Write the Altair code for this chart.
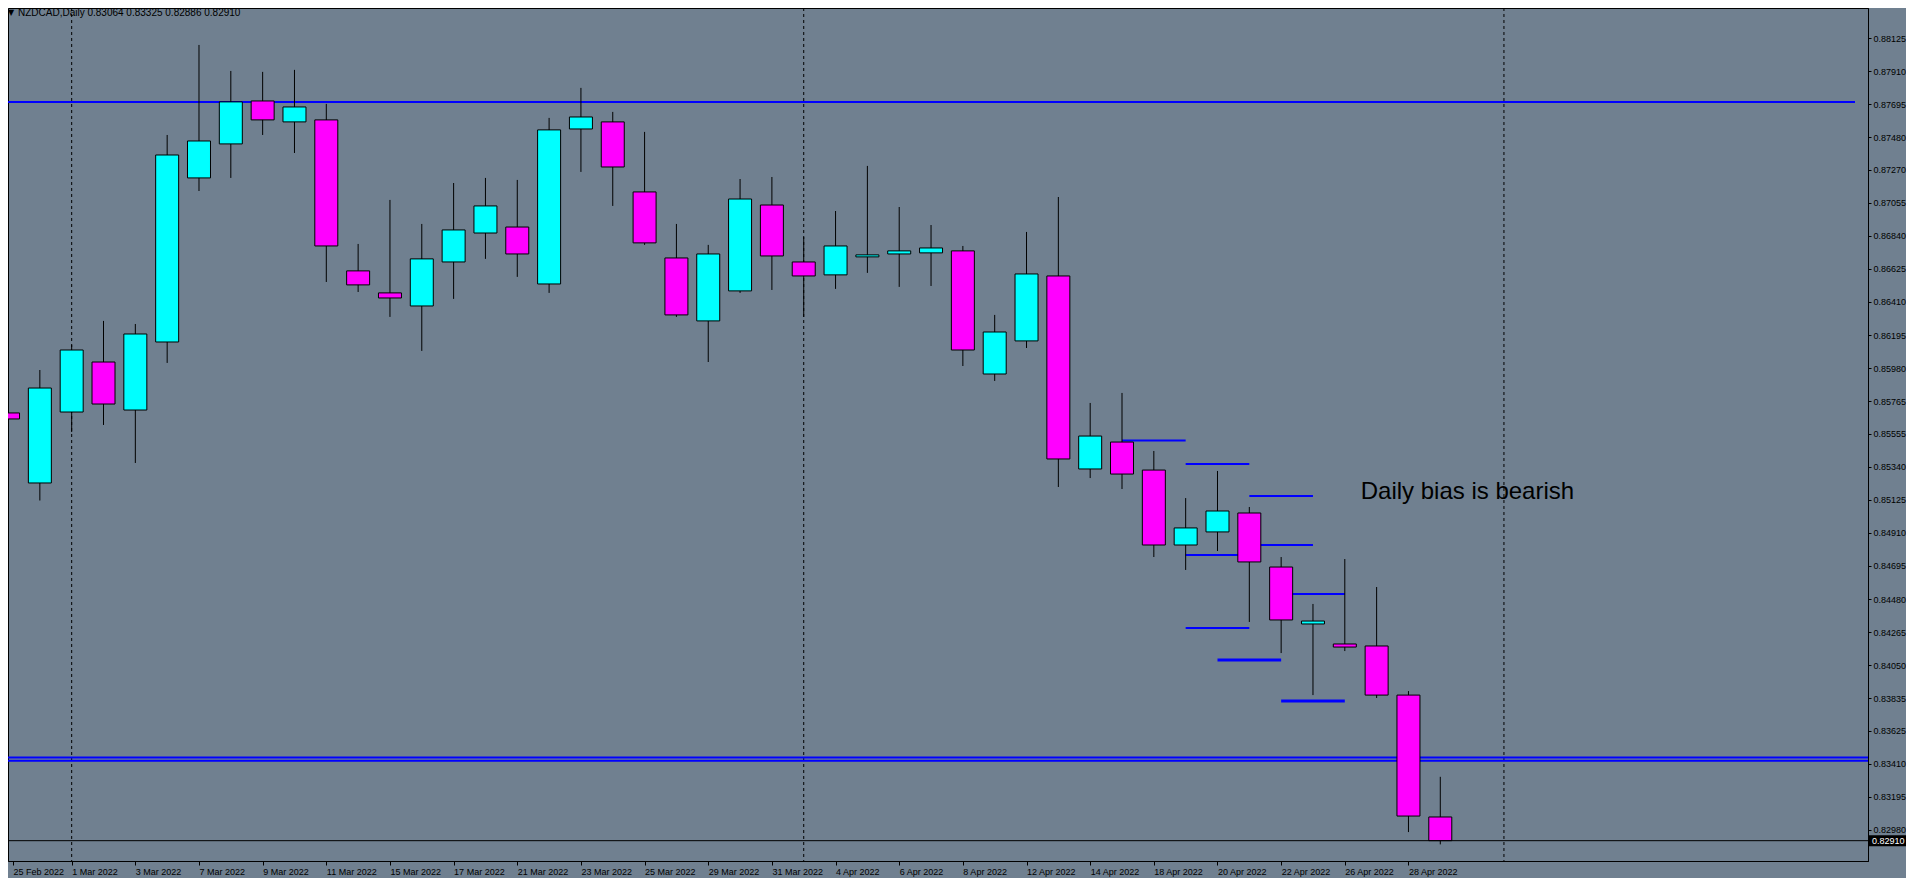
import json
import altair as alt
import pandas as pd

# ---------------- data ----------------
dates = ["25 Feb 2022", "28 Feb 2022", "1 Mar 2022", "2 Mar 2022", "3 Mar 2022", "4 Mar 2022",
         "7 Mar 2022", "8 Mar 2022", "9 Mar 2022", "10 Mar 2022", "11 Mar 2022", "14 Mar 2022",
         "15 Mar 2022", "16 Mar 2022", "17 Mar 2022", "18 Mar 2022", "21 Mar 2022", "22 Mar 2022",
         "23 Mar 2022", "24 Mar 2022", "25 Mar 2022", "28 Mar 2022", "29 Mar 2022", "30 Mar 2022",
         "31 Mar 2022", "1 Apr 2022", "4 Apr 2022", "5 Apr 2022", "6 Apr 2022", "7 Apr 2022",
         "8 Apr 2022", "11 Apr 2022", "12 Apr 2022", "13 Apr 2022", "14 Apr 2022", "15 Apr 2022",
         "18 Apr 2022", "19 Apr 2022", "20 Apr 2022", "21 Apr 2022", "22 Apr 2022", "25 Apr 2022",
         "26 Apr 2022", "27 Apr 2022", "28 Apr 2022", "29 Apr 2022"]

opens = [0.85689, 0.85234, 0.85695, 0.86020, 0.85708, 0.86150, 0.87216, 0.87437, 0.87716, 0.87580,
         0.87593, 0.86612, 0.86469, 0.86384, 0.86670, 0.86858, 0.86897, 0.86527, 0.87534, 0.87580,
         0.87125, 0.86696, 0.86287, 0.86482, 0.87040, 0.86670, 0.86586, 0.86703, 0.86722, 0.86729,
         0.86742, 0.85942, 0.86157, 0.86579, 0.85325, 0.85500, 0.85318, 0.84831, 0.84916, 0.85039,
         0.84688, 0.84318, 0.84188, 0.84175, 0.83856, 0.83064]
highs = [0.86150, 0.85968, 0.86131, 0.86287, 0.86267, 0.87495, 0.88080, 0.87911, 0.87905, 0.87918,
         0.87697, 0.86787, 0.87073, 0.86917, 0.87183, 0.87216, 0.87203, 0.87606, 0.87801, 0.87645,
         0.87515, 0.86917, 0.86781, 0.87209, 0.87222, 0.86832, 0.87001, 0.87294, 0.87027, 0.86910,
         0.86774, 0.86326, 0.86865, 0.87092, 0.85754, 0.85819, 0.85442, 0.85136, 0.85312, 0.85078,
         0.84753, 0.84448, 0.84740, 0.84558, 0.83882, 0.83325]
lows = [0.85611, 0.85120, 0.85565, 0.85611, 0.85364, 0.86014, 0.87131, 0.87216, 0.87495, 0.87378,
        0.86540, 0.86475, 0.86313, 0.86092, 0.86430, 0.86690, 0.86573, 0.86469, 0.87255, 0.87034,
        0.86781, 0.86313, 0.86020, 0.86469, 0.86488, 0.86313, 0.86495, 0.86599, 0.86508, 0.86514,
        0.85994, 0.85897, 0.86111, 0.85208, 0.85266, 0.85195, 0.84753, 0.84669, 0.84792, 0.84331,
        0.84129, 0.83856, 0.84142, 0.83837, 0.82966, 0.82886]
closes = [0.85650, 0.85851, 0.86098, 0.85747, 0.86202, 0.87365, 0.87456, 0.87710, 0.87593, 0.87677,
          0.86774, 0.86521, 0.86436, 0.86690, 0.86878, 0.87034, 0.86722, 0.87528, 0.87612, 0.87287,
          0.86794, 0.86326, 0.86722, 0.87079, 0.86709, 0.86579, 0.86774, 0.86716, 0.86742, 0.86761,
          0.86098, 0.86215, 0.86592, 0.85390, 0.85539, 0.85292, 0.84831, 0.84942, 0.85052, 0.84721,
          0.84344, 0.84337, 0.84168, 0.83856, 0.83070, 0.82910]

# price-axis tick labels (as printed by the terminal)
price_ticks = [0.82765, 0.82980, 0.83195, 0.83410, 0.83625, 0.83835, 0.84050, 0.84265, 0.84480,
               0.84695, 0.84910, 0.85125, 0.85340, 0.85555, 0.85765, 0.85980, 0.86195, 0.86410,
               0.86625, 0.86840, 0.87055, 0.87270, 0.87480, 0.87695, 0.87910, 0.88125, 0.88340]

# month separators (bar index)
separators = [2, 25, 47]

# long horizontal levels
top_level = 0.87710
top_level_span = [-0.1, 58.03]
double_levels = [0.83450, 0.83430]
bid = closes[-1]

# short drawn levels: start bar, end bar, price, thickness
seg_start = [35, 37, 39, 39, 37, 40, 37, 38, 40]
seg_end = [37, 39, 41, 41, 39, 42, 39, 40, 42]
seg_price = [0.85510, 0.85357, 0.85150, 0.84831, 0.84766, 0.84513, 0.84292, 0.84084, 0.83817]
seg_width = [2, 2, 2, 2, 2, 2, 2, 3, 3]

note_text = "Daily bias is bearish"
note_pos = (42.5, 0.85130)
symbol = "NZDCAD,Daily"

# ---------------- chart ----------------
BG = "#708090"
FONT = "Liberation Sans"

n = len(dates)
candles = pd.DataFrame({
    "i": list(range(n)), "date": dates,
    "o": opens, "h": highs, "l": lows, "c": closes,
})
candles["dir"] = ["up" if c > o else "down" for o, c in zip(opens, closes)]

x_min, x_max = 0.15625, 58.28125
xscale = alt.Scale(domain=[x_min, x_max], nice=False, zero=False)
yscale = alt.Scale(domain=[0.82778, 0.88320], nice=False, zero=False)

tick_idx = [x_min] + list(range(2, n, 2))
xaxis = alt.Axis(values=tick_idx, labelExpr=json.dumps(dates) + "[round(datum.value)]",
                 orient="bottom", labelAlign="left", labelBaseline="top", tickSize=4,
                 labelPadding=2, title=None, grid=False, labelOverlap=False,
                 labelFlush=False, labelBound=False)
yaxis = alt.Axis(values=price_ticks, format=".5f", orient="right", tickSize=3,
                 labelPadding=2, title=None, grid=False, labelOverlap=False,
                 labelFlush=False, labelBound=False, labelBaseline="middle")


def X(f):
    return alt.X(f, type="quantitative", scale=xscale, axis=xaxis)


def Y(f):
    return alt.Y(f, type="quantitative", scale=yscale, axis=yaxis)


def XD(v):
    return alt.XDatum(v, type="quantitative", scale=xscale, axis=xaxis)


def YD(v):
    return alt.YDatum(v, type="quantitative", scale=yscale, axis=yaxis)


sep_layer = alt.Chart(pd.DataFrame({"i": separators})).mark_rule(
    color="black", strokeWidth=1, strokeDash=[3, 3]
).encode(x=X("i"))

double_layer = alt.Chart(pd.DataFrame({"p": double_levels})).mark_rule(
    color="#0000FF", strokeWidth=2
).encode(y=Y("p"))

top_layer = alt.Chart(pd.DataFrame({"s": [top_level_span[0]], "e": [top_level_span[1]],
                                    "p": [top_level]})).mark_rule(
    color="#0000FF", strokeWidth=2
).encode(x=X("s"), x2="e", y=Y("p"))

seg_layer = alt.Chart(pd.DataFrame({"s": seg_start, "e": seg_end, "p": seg_price,
                                    "w": seg_width})).mark_rule(color="#0000FF").encode(
    x=X("s"), x2="e", y=Y("p"), strokeWidth=alt.StrokeWidth("w:Q", scale=None)
)

wick_layer = alt.Chart(candles).mark_rule(color="black", strokeWidth=1).encode(
    x=X("i"), y=Y("l"), y2="h"
)

body_layer = alt.Chart(candles).mark_bar(size=23, stroke="black", strokeWidth=1).encode(
    x=X("i"), y=Y("o"), y2="c",
    fill=alt.Fill("dir:N", scale=alt.Scale(domain=["up", "down"], range=["#00FFFF", "#FF00FF"]),
                  legend=None)
)

bid_layer = alt.Chart(pd.DataFrame({"p": [bid]})).mark_rule(color="black", strokeWidth=1).encode(
    y=Y("p")
)

note_layer = alt.Chart(pd.DataFrame({"t": [note_text]})).mark_text(
    align="left", baseline="alphabetic", font=FONT, fontSize=24, color="#000000"
).encode(x=XD(note_pos[0]), y=YD(note_pos[1]), text="t:N")

bid_box = alt.Chart(pd.DataFrame({"t": [0]})).mark_rect(color="black").encode(
    x=alt.value(1861), x2=alt.value(1898), y=YD(bid + 0.00036), y2=alt.datum(bid - 0.00036)
)
bid_text = alt.Chart(pd.DataFrame({"t": [f"{bid:.5f}"]})).mark_text(
    align="left", baseline="middle", font=FONT, fontSize=9, color="white"
).encode(x=alt.value(1864), y=YD(bid), text="t:N")

title_str = f"{symbol}  {opens[-1]:.5f} {highs[-1]:.5f} {lows[-1]:.5f} {closes[-1]:.5f}"
title_layer = alt.Chart(pd.DataFrame({"t": [title_str]})).mark_text(
    align="left", baseline="middle", font=FONT, fontSize=10, color="black"
).encode(x=alt.value(10), y=alt.value(5), text="t:N")
tri_layer = alt.Chart(pd.DataFrame({"t": ["▼"]})).mark_text(
    align="center", baseline="middle", font="DejaVu Sans", fontSize=8, color="black"
).encode(x=alt.value(3), y=alt.value(5), text="t:N")

chart = alt.layer(
    sep_layer, double_layer, top_layer, seg_layer, wick_layer, body_layer, bid_layer,
    note_layer, bid_box, bid_text, title_layer, tri_layer
).properties(
    width=1860, height=853,
    padding={"left": 0, "top": 0, "right": 38, "bottom": 17},
    autosize=alt.AutoSizeParams(type="none"),
    background=BG,
).configure_view(
    stroke="black", strokeWidth=1, fill=BG
).configure_axis(
    labelFont=FONT, labelFontSize=9, labelColor="black", tickColor="black",
    domainColor="black", domainWidth=1, tickWidth=1
)

chart.save("out.html", embed_options={"renderer": "svg", "actions": False})
